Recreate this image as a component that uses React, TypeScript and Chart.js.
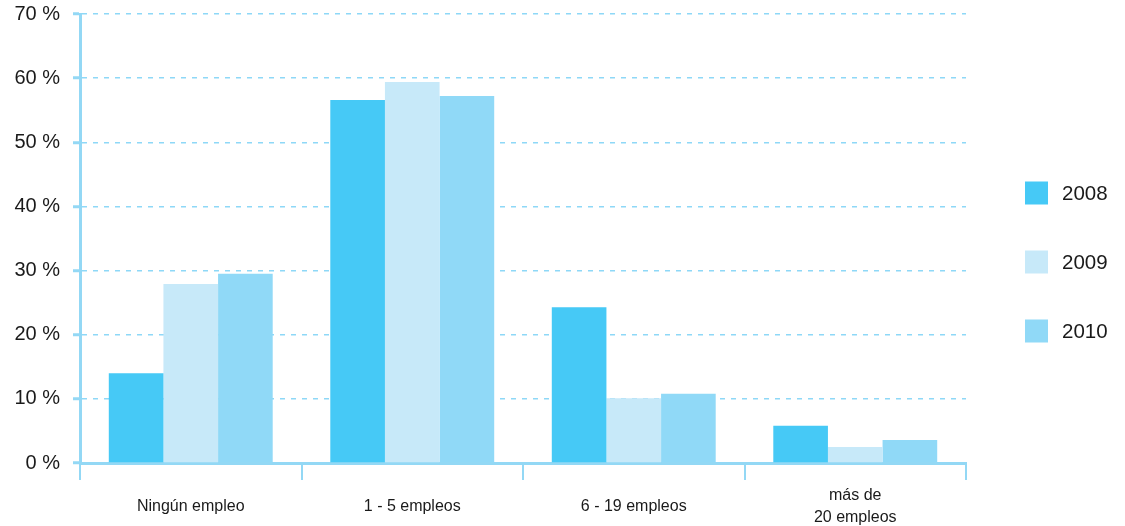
import React, { useEffect, useRef } from "react";
import { Chart, registerables } from "chart.js";

Chart.register(...registerables);

const categories: (string | string[])[] = [
  "Ningún empleo",
  "1 - 5 empleos",
  "6 - 19 empleos",
  ["más de", "20 empleos"],
];
const seriesNames = ["2008", "2009", "2010"];
const values2008 = [14.0, 56.6, 24.3, 5.8];
const values2009 = [27.9, 59.4, 10.1, 2.5];
const values2010 = [29.5, 57.2, 10.8, 3.6];
const yTicks = [0, 10, 20, 30, 40, 50, 60, 70];

const colors = ["#46C9F6", "#C7E9F9", "#90D9F7"];
const axisColor = "#93D8F5";
const gridColor = "#8ED8F7";
const FONT = "'Liberation Sans', Arial, Helvetica, sans-serif";

const legendPlugin = {
  id: "sideLegend",
  afterDraw(chart: any) {
    const { ctx, chartArea } = chart;
    const x = chartArea.right + 59;
    const centerY = 262;
    const spacing = 69;
    const n = chart.data.datasets.length;
    ctx.save();
    chart.data.datasets.forEach((ds: any, i: number) => {
      const cy = centerY + (i - (n - 1) / 2) * spacing;
      ctx.fillStyle = ds.backgroundColor;
      ctx.fillRect(x, cy - 11.5, 23, 23);
      ctx.fillStyle = "#1a1a1a";
      ctx.font = `20.5px ${FONT}`;
      ctx.textBaseline = "middle";
      ctx.textAlign = "left";
      ctx.fillText(ds.label, x + 37, cy + 1);
    });
    ctx.restore();
  },
};

export default function App() {
  const ref = useRef<HTMLCanvasElement | null>(null);
  useEffect(() => {
    if (!ref.current) return;
    const chart = new Chart(ref.current, {
      type: "bar",
      data: {
        labels: categories,
        datasets: [values2008, values2009, values2010].map((d, i) => ({
          label: seriesNames[i],
          data: d,
          backgroundColor: colors[i],
          borderWidth: 0,
          categoryPercentage: 0.74,
          barPercentage: 1.0,
        })),
      },
      options: {
        responsive: false,
        animation: false,
        layout: { padding: { top: 14, right: 159, left: 0, bottom: 0 } },
        plugins: { legend: { display: false }, tooltip: { enabled: false } },
        scales: {
          x: {
            offset: true,
            grid: {
              offset: true,
              drawOnChartArea: false,
              drawTicks: true,
              tickLength: 17,
              color: axisColor,
              tickColor: axisColor,
              tickWidth: 2,
              lineWidth: 2,
            },
            border: { display: true, color: axisColor, width: 3 },
            ticks: {
              color: "#1a1a1a",
              font: { family: FONT, size: 16, lineHeight: 1.32 },
              padding: 16,
              maxRotation: 0,
              crossAlign: "center",
            },
            afterFit: (scale: any) => {
              scale.height = 63;
              scale.paddingLeft = 0;
              scale.paddingRight = 0;
            },
          },
          y: {
            min: 0,
            max: 70,
            afterBuildTicks: (scale: any) => {
              scale.ticks = yTicks.map((v) => ({ value: v }));
            },
            grid: {
              color: gridColor,
              lineWidth: 1.5,
              tickColor: axisColor,
              tickWidth: 3,
              tickLength: 7,
              tickBorderDash: [],
            },
            border: { display: true, color: axisColor, width: 3, dash: [5, 6] },
            ticks: {
              color: "#1a1a1a",
              font: { family: FONT, size: 20 },
              padding: 13,
              callback: (v: any) => `${v} %`,
            },
            afterFit: (scale: any) => {
              scale.width = 80;
              scale.paddingTop = 0;
              scale.paddingBottom = 0;
            },
          },
        },
      },
      plugins: [legendPlugin],
    });
    return () => chart.destroy();
  }, []);
  return (
    <div style={{ position: "fixed", left: 0, top: 0, width: 1125, height: 526, background: "#fff" }}>
      <canvas ref={ref} width={1125} height={526} />
    </div>
  );
}
